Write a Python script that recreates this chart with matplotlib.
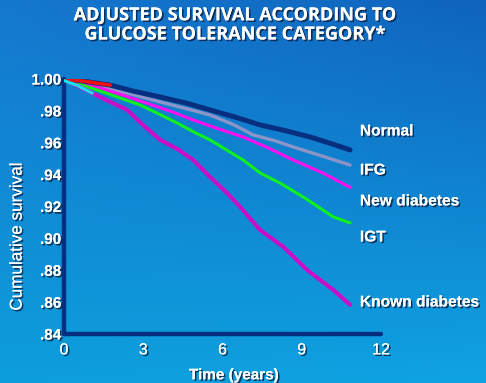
import numpy as np
import matplotlib
matplotlib.use("Agg")
import matplotlib.pyplot as plt
from matplotlib import patheffects as pe

# Survival curves by glucose tolerance category (time in years, cumulative survival)
normal_t = [0.0, 0.6, 1.2, 1.74, 2.6, 3.64, 4.6, 5.53, 6.5, 7.42, 8.4, 9.32, 10.2, 10.83]
normal_s = [1.000, 0.9990, 0.9975, 0.9962, 0.9925, 0.9887, 0.9850, 0.9806, 0.9760, 0.9712, 0.9675, 0.9636, 0.9590, 0.9555]

ifg_t = [0.0, 1.2, 2.39, 3.64, 4.6, 5.53, 6.4, 7.16, 8.0, 8.67, 9.8, 10.83]
ifg_s = [1.000, 0.9960, 0.9912, 0.9856, 0.9815, 0.9774, 0.9715, 0.9649, 0.9612, 0.9574, 0.9515, 0.9460]

newdm_t = [0.0, 1.36, 2.2, 2.99, 4.0, 4.89, 5.8, 6.78, 7.7, 8.67, 9.8, 10.83]
newdm_s = [1.000, 0.9944, 0.9900, 0.9856, 0.9800, 0.9743, 0.9690, 0.9636, 0.9570, 0.9492, 0.9410, 0.9320]

igt_t = [0.0, 1.48, 2.88, 3.6, 4.28, 5.0, 5.53, 6.2, 6.78, 7.42, 8.2, 9.05, 9.6, 10.19, 10.83]
igt_s = [1.000, 0.9918, 0.9837, 0.9780, 0.9724, 0.9660, 0.9618, 0.9550, 0.9492, 0.9411, 0.9345, 0.9260, 0.9200, 0.9135, 0.9097]

known_t = [0.0, 1.06, 1.7, 2.39, 3.0, 3.64, 4.3, 4.89, 5.5, 6.17, 6.67, 7.42, 8.3, 9.2, 10.19, 10.83]
known_s = [1.000, 0.9912, 0.9860, 0.9806, 0.9710, 0.9618, 0.9560, 0.9492, 0.9390, 0.9285, 0.9197, 0.9053, 0.8947, 0.8802, 0.8677, 0.8583]

# Early segments drawn in their own colours
normal_early_t = [0.0, 0.8, 1.74]
normal_early_s = [1.000, 0.9985, 0.9962]
known_early_t = [0.0, 0.5, 1.06]
known_early_s = [0.9990, 0.9960, 0.9912]

labels = ["Normal", "IFG", "New diabetes", "IGT", "Known diabetes"]
label_y = [0.9674, 0.9429, 0.9235, 0.9009, 0.8601]

x_ticks = [0, 3, 6, 9, 12]
y_ticks = [0.84, 0.86, 0.88, 0.90, 0.92, 0.94, 0.96, 0.98, 1.00]
y_tick_labels = [".84", ".86", ".88", ".90", ".92", ".94", ".96", ".98", "1.00"]

W, H = 486, 383
fig = plt.figure(figsize=(W / 100, H / 100), dpi=100)

# Blue gradient background
bg = fig.add_axes([0, 0, 1, 1], zorder=0)
bg.axis("off")
yy = np.linspace(0, 1, 200)[:, None]
xx = np.linspace(0, 1, 200)[None, :]
top = np.array([0.08, 0.47, 0.81])
top_r = np.array([0.06, 0.39, 0.74])
bot = np.array([0.05, 0.62, 0.86])
bot_r = np.array([0.06, 0.64, 0.89])
left = top[None, None, :] * (1 - yy[..., None]) + bot[None, None, :] * yy[..., None]
right = top_r[None, None, :] * (1 - yy[..., None]) + bot_r[None, None, :] * yy[..., None]
img = left * (1 - xx[..., None]) + right * xx[..., None]
bg.imshow(img, extent=[0, 1, 0, 1], aspect="auto", origin="upper")
bg.set_xlim(0, 1)
bg.set_ylim(0, 1)

shadow = [pe.withSimplePatchShadow(offset=(1.2, -1.2), shadow_rgbFace="#0b2347", alpha=0.85), pe.Normal()]

ax = fig.add_axes([64 / W, (H - 334) / H, 317 / W, 255 / H], zorder=1)
ax.patch.set_alpha(0)
ax.set_xlim(0, 12)
ax.set_ylim(0.84, 1.00)

navy = "#022f80"
for side in ["top", "right"]:
    ax.spines[side].set_visible(False)
for side in ["left", "bottom"]:
    ax.spines[side].set_color(navy)
    ax.spines[side].set_linewidth(3.2)
    ax.spines[side].set_capstyle("round")

ax.plot(ifg_t, ifg_s, color="#8d94c8", lw=2.4, solid_capstyle="round", zorder=3)
ax.plot(normal_t, normal_s, color="#06307f", lw=3.6, solid_capstyle="round", zorder=4)
ax.plot(newdm_t, newdm_s, color="#ff10f0", lw=2.2, solid_capstyle="round", zorder=3)
ax.plot(igt_t, igt_s, color="#10f020", lw=2.2, solid_capstyle="round", zorder=3)
ax.plot(known_t, known_s, color="#c810c8", lw=3.0, solid_capstyle="round", zorder=3)
ax.plot(normal_early_t, normal_early_s, color="#f01010", lw=2.6, zorder=5)
ax.plot(known_early_t, known_early_s, color="#18e0f0", lw=2.2, zorder=5)

ax.set_xticks(x_ticks)
ax.set_xticklabels([str(t) for t in x_ticks])
ax.set_yticks(y_ticks)
ax.set_yticklabels(y_tick_labels)
ax.tick_params(axis="y", length=0, pad=2, colors="white")
ax.tick_params(axis="x", length=0, pad=6, colors="white")
for lab in ax.get_yticklabels():
    lab.set_fontsize(11)
    lab.set_fontweight("bold")
    lab.set_fontfamily("Liberation Sans")
    lab.set_path_effects(shadow)
for lab in ax.get_xticklabels():
    lab.set_fontsize(11.5)
    lab.set_fontfamily("Liberation Sans")
    lab.set_path_effects(shadow)

ax.set_xlabel("Time (years)", fontsize=11, fontweight="bold", color="white",
              family="Liberation Sans", va="center", path_effects=shadow)
ax.xaxis.set_label_coords(0.536, -0.162)
ax.set_ylabel("Cumulative survival", fontsize=12.3, color="white",
              family="Liberation Sans", va="center", path_effects=shadow)
ax.yaxis.set_label_coords(-0.148, 0.385)

for name, yv in zip(labels, label_y):
    ax.text(11.2, yv, name, fontsize=11.2, fontweight="bold", color="white",
            family="Liberation Sans", va="center", ha="left", clip_on=False,
            path_effects=shadow)

fig.text(0.482, 0.960, "ADJUSTED SURVIVAL ACCORDING TO", ha="center", va="center",
         fontsize=13, fontweight="bold", color="white", family="Open Sans",
         path_effects=shadow)
fig.text(0.482, 0.910, "GLUCOSE TOLERANCE CATEGORY*", ha="center", va="center",
         fontsize=13, fontweight="bold", color="white", family="Open Sans",
         path_effects=shadow)

fig.savefig("out.png", dpi=100)
